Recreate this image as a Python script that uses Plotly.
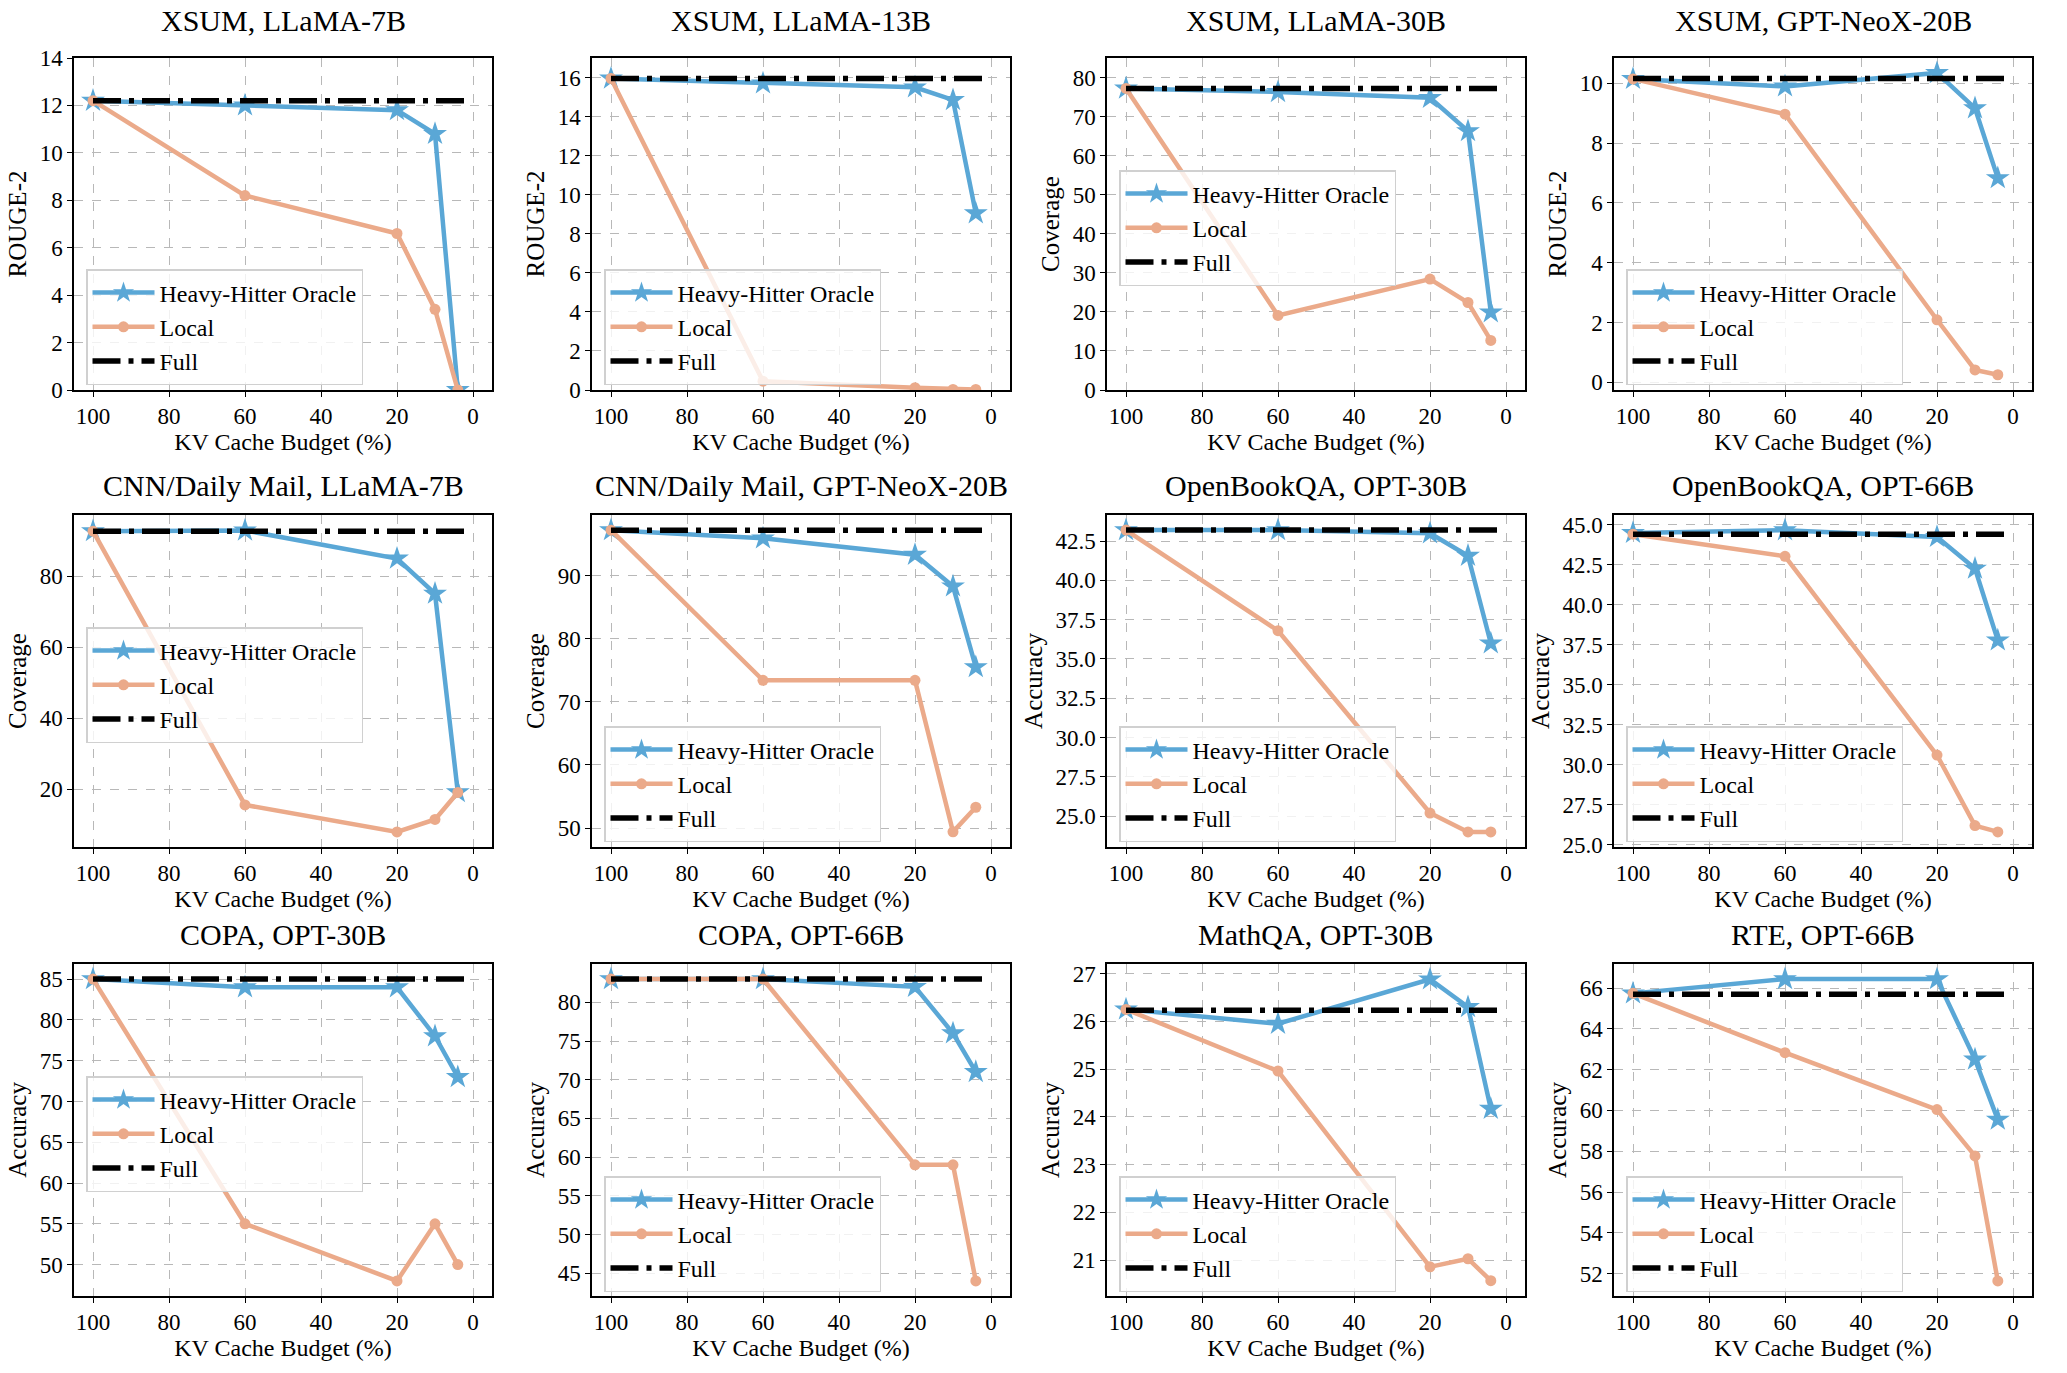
import plotly.graph_objects as go

# KV cache budget (%) used on every panel
budget = [100, 60, 20, 10, 4]
full_x = [100, 2]

titles = ["XSUM, LLaMA-7B", "XSUM, LLaMA-13B", "XSUM, LLaMA-30B", "XSUM, GPT-NeoX-20B",
          "CNN/Daily Mail, LLaMA-7B", "CNN/Daily Mail, GPT-NeoX-20B", "OpenBookQA, OPT-30B", "OpenBookQA, OPT-66B",
          "COPA, OPT-30B", "COPA, OPT-66B", "MathQA, OPT-30B", "RTE, OPT-66B"]
ylabels = ["ROUGE-2", "ROUGE-2", "Coverage", "ROUGE-2",
           "Coverage", "Coverage", "Accuracy", "Accuracy",
           "Accuracy", "Accuracy", "Accuracy", "Accuracy"]

h2o = [
    [12.2, 12.0, 11.8, 10.8, 0.0],
    [15.95, 15.7, 15.5, 14.85, 9.05],
    [77.2, 76.3, 74.8, 66.3, 19.9],
    [10.15, 9.9, 10.35, 9.17, 6.83],
    [92.7, 92.9, 85.0, 75.1, 19.2],
    [97.2, 95.9, 93.3, 88.3, 75.5],
    [43.2, 43.2, 43.0, 41.57, 36.0],
    [44.48, 44.65, 44.23, 42.25, 37.77],
    [85, 84, 84, 78, 73],
    [83, 83, 82, 76, 71],
    [26.25, 25.95, 26.88, 26.3, 24.17],
    [65.74, 66.44, 66.44, 62.5, 59.55],
]
local = [
    [12.2, 8.2, 6.6, 3.4, 0.0],
    [15.95, 0.45, 0.12, 0.03, 0.03],
    [77.2, 19.1, 28.4, 22.4, 12.7],
    [10.15, 8.97, 2.09, 0.41, 0.25],
    [92.7, 15.6, 8.0, 11.5, 19.1],
    [97.2, 73.4, 73.4, 49.4, 53.3],
    [43.2, 36.8, 25.2, 24.0, 24.0],
    [44.4, 43.02, 30.6, 26.2, 25.8],
    [85, 55, 48, 55, 50],
    [83, 83, 59, 59, 44],
    [26.25, 24.96, 20.86, 21.03, 20.57],
    [65.74, 62.83, 60.04, 57.77, 51.64],
]
full = [12.2, 15.95, 77.2, 10.16, 92.7, 97.2, 43.2, 44.4, 85, 83, 26.23, 65.7]

yranges = [[0, 14], [0, 17], [0, 85], [-0.26, 10.85],
           [3.75, 97.25], [47.0, 99.6], [23.04, 44.16], [24.86, 45.6],
           [46.15, 86.85], [42.05, 84.95], [20.25, 27.2], [50.9, 67.18]]
ydtick = [2, 2, 10, 2, 20, 10, 2.5, 2.5, 5, 5, 1, 2]
yfmt = ["", "", "", "", "", "", ".1f", ".1f", "", "", "", ""]
legend_top = [269, 269, 170, 269, 627, 726, 726, 726, 1076, 1176, 1176, 1176]

W, H = 2067, 1373
col_left = [74, 592, 1107, 1614]
row_top = [58, 515, 964]
ax_w, ax_h = 418, 332

blue = "#5AA7D6"
orange = "#EBAA8A"
serif = "Liberation Serif"

fig = go.Figure()
annotations = []
for i in range(12):
    r, c = divmod(i, 4)
    n = "" if i == 0 else str(i + 1)
    lg = "legend" + n
    xa, ya = "x" + n, "y" + n
    x0 = col_left[c] / W
    x1 = (col_left[c] + ax_w) / W
    y1 = 1 - row_top[r] / H
    y0 = 1 - (row_top[r] + ax_h) / H

    fig.add_trace(go.Scatter(x=budget, y=h2o[i], name="Heavy-Hitter Oracle", mode="lines+markers",
                             line=dict(color=blue, width=4.5), marker=dict(symbol="star", size=18, color=blue),
                             xaxis=xa, yaxis=ya, legend=lg))
    fig.add_trace(go.Scatter(x=budget, y=local[i], name="Local", mode="lines+markers",
                             line=dict(color=orange, width=4.5), marker=dict(symbol="circle", size=11, color=orange),
                             xaxis=xa, yaxis=ya, legend=lg))
    fig.add_trace(go.Scatter(x=full_x, y=[full[i]] * 2, name="Full", mode="lines",
                             line=dict(color="black", width=5.5, dash="28px,8px,5px,8px"),
                             xaxis=xa, yaxis=ya, legend=lg))

    axis_common = dict(showline=True, linecolor="black", linewidth=1.5, mirror=True, automargin=False,
                       ticks="outside", ticklen=5, tickwidth=1.2, tickcolor="black",
                       showgrid=True, gridcolor="#b8b8b8", griddash="dash", gridwidth=1,
                       zeroline=False, tickfont=dict(family=serif, size=23, color="black"))
    fig.update_layout({
        "xaxis" + n: dict(domain=[x0, x1], anchor=ya, range=[105, -5], tickvals=[100, 80, 60, 40, 20, 0],
                          title=dict(text="KV Cache Budget (%)", standoff=2,
                                     font=dict(family=serif, size=24, color="black")),
                          **axis_common),
        "yaxis" + n: dict(domain=[y0, y1], anchor=xa, range=yranges[i], dtick=ydtick[i], tickformat=yfmt[i],
                          title=dict(text=ylabels[i], standoff=6,
                                     font=dict(family=serif, size=25, color="black")),
                          **axis_common),
        lg: dict(x=(col_left[c] + 12) / W, y=1 - legend_top[i] / H, xanchor="left", yanchor="top",
                 bgcolor="rgba(255,255,255,0.8)", bordercolor="#d0d0d0", borderwidth=1.5,
                 font=dict(family=serif, size=24, color="black"), itemwidth=62, tracegroupgap=0),
    })
    annotations.append(dict(text=titles[i], x=(x0 + x1) / 2, y=y1 + (30 if r else 37) / H,
                            xref="paper", yref="paper", xanchor="center", yanchor="middle",
                            showarrow=False, font=dict(family=serif, size=30, color="black")))

fig.update_layout(width=W, height=H, margin=dict(l=0, r=0, t=0, b=0, autoexpand=False),
                  paper_bgcolor="white", plot_bgcolor="white", annotations=annotations)
# let the figure sit flush with the window corner, no toolbar
fig.write_html("out.html", config={"displayModeBar": False},
               post_script="document.body.style.margin = '0px';")
